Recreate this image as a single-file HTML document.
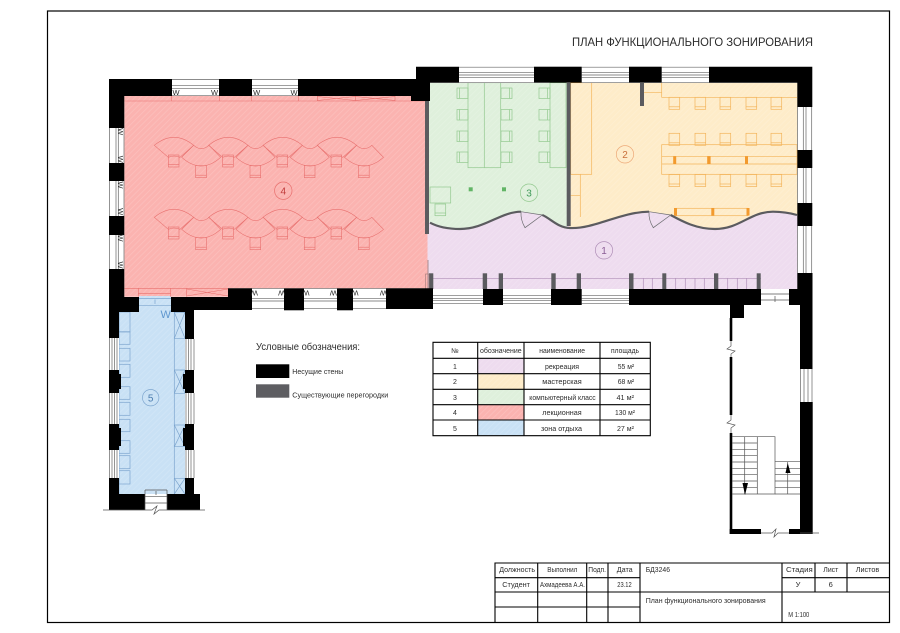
<!DOCTYPE html>
<html><head><meta charset="utf-8"><style>
html,body{margin:0;padding:0;background:#fff;width:900px;height:633px;overflow:hidden}
svg{display:block}
text{font-family:"Liberation Sans","DejaVu Sans",sans-serif;fill:#2c2c2c}
</style></head><body>
<svg width="900" height="633" viewBox="0 0 900 633" xmlns="http://www.w3.org/2000/svg">
<defs>
<pattern id="h" width="4" height="4" patternUnits="userSpaceOnUse" patternTransform="rotate(45)"><line x1="0" y1="0" x2="0" y2="4" stroke="#fff" stroke-opacity=".16" stroke-width="1.5"/></pattern>
<g id="ch" fill="none"><rect x="0" y="0" width="10.7" height="12"/><line x1="0" y1="9.5" x2="10.7" y2="9.5"/></g>
<g id="chs" fill="none"><rect x="0" y="0" width="11" height="10.5"/><line x1="2.5" y1="0" x2="2.5" y2="10.5"/></g>
<g id="chr" fill="none"><rect x="0" y="0" width="11" height="10.5"/><line x1="8.5" y1="0" x2="8.5" y2="10.5"/></g>
<path id="fu" fill="none" d="M0,8 Q19.7,-8 39.4,8 L25.7,20 Q19.7,17.5 14,20 Z"/>
<path id="fl" fill="none" d="M0,0 Q19.5,17.4 39,0 L27.3,-12 Q19.5,-5.2 12,-12 Z"/>
<g id="row">
<g transform="translate(154.3,137.3)"><use href="#fu"/></g>
<g transform="translate(208.6,137.3)"><use href="#fu"/></g>
<g transform="translate(263,137.3)"><use href="#fu"/></g>
<g transform="translate(317.2,137.3)"><use href="#fu"/></g>
<g transform="translate(181.7,157.3)"><use href="#fl"/></g>
<g transform="translate(236,157.3)"><use href="#fl"/></g>
<g transform="translate(290.3,157.3)"><use href="#fl"/></g>
<g transform="translate(344.5,157.3)"><use href="#fl"/></g>
<use href="#ch" x="168.3" y="155"/><use href="#ch" x="222.6" y="155"/><use href="#ch" x="277" y="155"/><use href="#ch" x="331" y="155"/>
<use href="#ch" x="195.7" y="165.7"/><use href="#ch" x="250" y="165.7"/><use href="#ch" x="304.3" y="165.7"/><use href="#ch" x="358.5" y="165.7"/>
</g>
<g id="oc">
<use href="#ch" x="669" y="0"/><use href="#ch" x="695" y="0"/><use href="#ch" x="720" y="0"/><use href="#ch" x="746" y="0"/><use href="#ch" x="771" y="0"/>
</g>
</defs>

<rect width="900" height="633" fill="#fff"/>
<rect x="47.5" y="11" width="842" height="611.5" fill="none" stroke="#000" stroke-width="1.2"/>
<text x="572" y="46" font-size="12" textLength="241" lengthAdjust="spacingAndGlyphs">ПЛАН ФУНКЦИОНАЛЬНОГО ЗОНИРОВАНИЯ</text>

<!-- zones -->
<g>
<path d="M427,200 H797.5 V289 H427 Z" fill="#eedcef"/>
<path d="M429,83 H567 V228 C558,228 550,218 542.3,215 L521,211.7 C500,212 485,229 460,229 C450,229 440,228 429,222 Z" fill="#dff0dc"/>
<path d="M569,83 H797.5 V215 C790,213 782,211.7 773,211.7 C750,211.7 740,229 715,229 C695,229 680,220 670.7,215 L649,211.7 C620,212 595,229 570,228 L569,228 Z" fill="#feecc9"/>
<path d="M124.3,95.7 H425 V234 H427.5 V288.3 H228 V296.7 H124.3 Z" fill="#fbb3b0"/>
<path d="M139,296 H171 V312 H185 V494 H119 V312 H139 Z" fill="#c9e1f5"/>
<path d="M427,83 H797.5 V289 H427 Z M124.3,95.7 H425 V234 H427.5 V288.3 H228 V296.7 H124.3 Z M139,296 H171 V312 H185 V494 H119 V312 H139 Z" fill="url(#h)"/>
</g>

<!-- Room 4 furniture -->
<g stroke="#e8706e" stroke-width=".6" fill="none">
<path d="M124.3,101 H425 M171.7,96 V101 M219.3,96 V101 M251.7,96 V101 M298.3,96 V101 M317.3,96 V101 M355.3,96 V101 M395,96 V101 M317.3,96.5 L355.3,100.5 M317.3,100.5 L355.3,96.5 M355.3,96.5 L395,100.5 M355.3,100.5 L395,96.5"/>
<path d="M124.3,288.3 H228 M138.3,288.3 V296.7 M138.3,293.3 H170.7 M170.7,288.3 V296.7 M186.7,288.3 V296.7 M186.7,289 L228,296 M186.7,296 L228,289"/>
<use href="#row"/>
<use href="#row" y="72"/>
<circle cx="283.3" cy="190.7" r="8.7" stroke-width=".7"/>
</g>

<!-- Room 3 furniture -->
<g stroke="#93c98f" stroke-width=".7" fill="none">
<rect x="468" y="82.7" width="32.7" height="85"/><line x1="484.3" y1="82.7" x2="484.3" y2="167.7"/>
<rect x="550" y="82.7" width="16" height="85"/>
<rect x="430" y="187" width="20.7" height="16"/>
<rect x="435" y="204" width="10.7" height="11.7"/><line x1="435" y1="213" x2="445.7" y2="213"/>
<use href="#chs" x="457" y="88"/><use href="#chs" x="457" y="109.5"/><use href="#chs" x="457" y="131"/><use href="#chs" x="457" y="152"/>
<use href="#chr" x="501" y="88"/><use href="#chr" x="501" y="109.5"/><use href="#chr" x="501" y="131"/><use href="#chr" x="501" y="152"/>
<use href="#chr" x="539" y="88"/><use href="#chr" x="539" y="109.5"/><use href="#chr" x="539" y="131"/><use href="#chr" x="539" y="152"/>
<circle cx="529" cy="192.7" r="8.7"/>
</g>
<rect x="468.7" y="187.3" width="4" height="4" fill="#62b566"/><rect x="502" y="187.3" width="4" height="4" fill="#62b566"/>

<!-- Room 2 furniture -->
<g stroke="#f3b45a" stroke-width=".7" fill="none">
<rect x="570.7" y="82.7" width="21" height="91.6"/>
<path d="M570.7,174.3 H580.3 V217 M570.7,195.7 H580.3"/>
<path d="M661.7,82.7 V97.3 H797 M644,92.7 H661.7"/>
<g transform="translate(0,97.3)"><use href="#oc"/></g>
<g transform="translate(0,133.3)"><use href="#oc"/></g>
<g transform="translate(0,174.5)"><use href="#oc"/></g>
<rect x="661.7" y="144.7" width="135.3" height="29.6"/>
<path d="M661.7,156.3 H797 M661.7,164 H797"/>
<rect x="675" y="208.3" width="73" height="7.4"/>
<circle cx="625" cy="154.3" r="8.7" stroke="#eda978"/>
</g>
<g fill="#f29a2e">
<rect x="673.2" y="156.3" width="3" height="7.7"/><rect x="707.2" y="156.3" width="3.4" height="7.7"/><rect x="745" y="156.3" width="3" height="7.7"/>
<rect x="674" y="208" width="3" height="7.5"/><rect x="711.3" y="208" width="3" height="7.5"/><rect x="746.5" y="208" width="3" height="7.5"/>
</g>

<!-- Room 1 details -->
<g stroke="#b08fb8" stroke-width=".7" fill="none">
<path d="M429,278.3 H761"/>
<path d="M643.3,278.3 V289 M652.3,278.3 V289 M675.7,278.3 V289 M685.3,278.3 V289 M695,278.3 V289 M704.3,278.3 V289 M727.7,278.3 V289 M737.3,278.3 V289 M746.7,278.3 V289"/>
<circle cx="604" cy="250.3" r="8.7"/>
</g>
<g fill="#5b5b5f">
<rect x="429" y="273.3" width="4.3" height="15.7"/><rect x="482.7" y="273.3" width="4.4" height="15.7"/><rect x="498.7" y="273.3" width="4.3" height="15.7"/><rect x="551.3" y="273.3" width="4.4" height="15.7"/><rect x="576.7" y="273.3" width="4.3" height="15.7"/><rect x="629" y="273.3" width="4.5" height="15.7"/><rect x="662.3" y="273.3" width="4" height="15.7"/><rect x="714" y="273.3" width="4.3" height="15.7"/><rect x="756.7" y="273.3" width="4" height="15.7"/>
<rect x="425" y="100" width="4" height="134"/>
<rect x="566.7" y="83" width="4" height="143"/>
<rect x="640" y="83" width="4" height="23"/>
</g>
<line x1="428" y1="260" x2="428" y2="289" stroke="#8a6a6a" stroke-width=".7"/>
<rect x="425.5" y="274" width="3.5" height="15" fill="none" stroke="#a07878" stroke-width=".6"/>

<!-- wave -->
<g fill="none" stroke="#5b5b5f" stroke-width="2.2">
<path d="M430,222.7 C440,228 450,229 460,229 C485,229 500,212 521,211.7"/>
<path d="M542.3,215 C550,218 558,228 570,228 C595,229 620,212 649,211.7"/>
<path d="M670.7,215 C680,220 695,229 715,229 C740,229 750,211.7 773,211.7 C782,211.7 790,213 797,215"/>
</g>
<g fill="none" stroke="#6c6c70" stroke-width=".7">
<path d="M521,211.7 L542.3,215 L525,227.7 Q520.5,220 521,211.7"/>
<path d="M649,211.7 L670.7,215 L653.3,227.7 Q648.5,220 649,211.7"/>
</g>

<!-- Room 5 details -->
<g stroke="#7ea6cf" stroke-width=".7" fill="none">
<path d="M139,298.5 H171 M139,305.7 H171 M155,299.5 V304 M119,312 V494"/>
<rect x="119" y="312" width="11" height="20"/>
<rect x="119" y="331.7" width="11" height="12.6"/><rect x="119" y="348.3" width="11" height="12.7"/><rect x="119" y="364.3" width="11" height="13"/>
<rect x="119" y="386.7" width="11" height="12.6"/><rect x="119" y="402.3" width="11" height="13"/><rect x="119" y="419.3" width="11" height="12.4"/>
<rect x="119" y="440.7" width="11" height="12.6"/><rect x="119" y="455.7" width="11" height="13"/><rect x="119" y="470.7" width="11" height="13.3"/>
<path d="M174.3,312 V494"/>
<path d="M174.3,312.3 H185 M174.3,338.3 H185 M174.3,312.3 L185,338.3 M185,312.3 L174.3,338.3"/>
<path d="M174.3,370 H185 M174.3,393.3 H185 M174.3,370 L185,393.3 M185,370 L174.3,393.3"/>
<path d="M174.3,425 H185 M174.3,446.7 H185 M174.3,425 L185,446.7 M185,425 L174.3,446.7"/>
<path d="M174.3,478.3 H185 M174.3,478.3 L185,494 M185,478.3 L174.3,494"/>
<circle cx="150.7" cy="397.7" r="8.2"/>
</g>

<!-- windows -->
<g fill="#fff">
<rect x="172" y="79" width="47" height="17"/><rect x="252" y="79" width="46" height="17"/>
<rect x="459" y="66.7" width="75" height="16"/><rect x="581.7" y="66.7" width="47.3" height="16"/><rect x="661.7" y="66.7" width="47.3" height="16"/>
<rect x="109" y="128" width="15.3" height="35"/><rect x="109" y="181" width="15.3" height="35"/><rect x="109" y="235" width="15.3" height="34"/>
<rect x="252" y="288.3" width="32" height="22"/><rect x="304" y="288.3" width="33" height="22"/><rect x="353" y="288.3" width="33" height="22"/>
<rect x="433" y="289" width="50" height="16"/><rect x="503" y="289" width="48" height="16"/><rect x="581.7" y="289" width="47.3" height="16"/>
<rect x="797.3" y="107" width="15" height="43"/><rect x="797.3" y="168" width="15" height="35"/><rect x="797.3" y="226" width="15" height="47"/>
<rect x="800" y="369" width="12.7" height="33"/>
<rect x="109" y="338" width="10" height="32"/><rect x="109" y="393" width="10" height="31"/><rect x="109" y="450" width="10" height="28"/>
<rect x="185" y="339" width="9.5" height="31"/><rect x="185" y="393" width="9.5" height="31"/><rect x="185" y="450" width="9.5" height="28"/>
</g>
<g stroke="#666" stroke-width=".7" fill="none">
<path d="M172,79.5 H219 M172,85.7 H219 M172,88.3 H219 M172,95.7 H219 M252,79.5 H298 M252,85.7 H298 M252,88.3 H298 M252,95.7 H298"/>
<path d="M459,67.2 H534 M459,72.7 H534 M459,75 H534 M459,77.3 H534 M459,82.7 H534 M581.7,67.2 H629 M581.7,72.7 H629 M581.7,75 H629 M581.7,77.3 H629 M581.7,82.7 H629 M661.7,67.2 H709 M661.7,72.7 H709 M661.7,75 H709 M661.7,77.3 H709 M661.7,82.7 H709"/>
<path d="M109.5,128 V163 M116,128 V163 M118.3,128 V163 M124,128 V163 M109.5,181 V216 M116,181 V216 M118.3,181 V216 M124,181 V216 M109.5,235 V269 M116,235 V269 M118.3,235 V269 M124,235 V269"/>
<path d="M252,288.7 H284 M252,298.3 H284 M252,301 H284 M252,308.7 H284 M304,288.7 H337 M304,298.3 H337 M304,301 H337 M304,308.7 H337 M353,288.7 H386 M353,298.3 H386 M353,301 H386 M353,308.7 H386"/>
<path d="M433,295.7 H483 M433,298.7 H483 M433,300.7 H483 M433,303.7 H483 M503,295.7 H551 M503,298.7 H551 M503,300.7 H551 M503,303.7 H551 M581.7,295.7 H629 M581.7,298.7 H629 M581.7,300.7 H629 M581.7,303.7 H629"/>
<path d="M797.5,107 V150 M803.3,107 V150 M806,107 V150 M811.7,107 V150 M797.5,168 V203 M803.3,168 V203 M806,168 V203 M811.7,168 V203 M797.5,226 V273 M803.3,226 V273 M806,226 V273 M811.7,226 V273"/>
<path d="M800.5,369 V402 M804,369 V402 M808,369 V402 M812,369 V402"/>
<path d="M109.5,338 V370 M112,338 V370 M114.5,338 V370 M117,338 V370 M109.5,393 V424 M112,393 V424 M114.5,393 V424 M117,393 V424 M109.5,450 V478 M112,450 V478 M114.5,450 V478 M117,450 V478"/>
<path d="M186,339 V370 M188.5,339 V370 M191,339 V370 M194,339 V370 M186,393 V424 M188.5,393 V424 M191,393 V424 M194,393 V424 M186,450 V478 M188.5,450 V478 M191,450 V478 M194,450 V478"/>
</g>

<!-- walls -->
<g fill="#000">
<path d="M109,79 H172 V96 H124.3 V128 H109 Z"/>
<rect x="219" y="79" width="33" height="17"/>
<path d="M298,79 H416 V66.7 H459 V82.7 H430 V101 H411 V96 H298 Z"/>
<rect x="534" y="66.7" width="47.7" height="16"/>
<rect x="629" y="66.7" width="32.7" height="16"/>
<path d="M709,66.7 H812.3 V107 H797.3 V82.7 H709 Z"/>
<rect x="797.3" y="150" width="15" height="18"/>
<rect x="797.3" y="203" width="15" height="23"/>
<rect x="109" y="163" width="15.3" height="18"/>
<rect x="109" y="216" width="15.3" height="19"/>
<path d="M109,269 H124.3 V297 H139 V312 H119 V338 H109 Z"/>
<path d="M171,297 H228 V288.3 H252 V310 H194 V339 H185 V312 H171 Z"/>
<rect x="284" y="288.3" width="20" height="22"/>
<rect x="337" y="288.3" width="16" height="22"/>
<path d="M386,288.3 H433 V309 H386 Z"/>
<rect x="483" y="289" width="20" height="16"/>
<rect x="551" y="289" width="30.7" height="16"/>
<rect x="629" y="289" width="132" height="16"/>
<path d="M789,273 H812.5 V369 H800 V305 H789 V289 H797.3 V273 Z"/>
<rect x="800" y="402" width="12.7" height="132"/>
<rect x="730" y="305" width="14" height="13"/>
<rect x="729.7" y="318" width="2.6" height="23"/>
<rect x="729.7" y="357" width="2.6" height="58"/>
<rect x="729.7" y="433" width="2.6" height="101"/>
<rect x="729.7" y="529" width="31.3" height="5"/>
<rect x="789" y="529" width="11" height="5"/>
<path d="M109,370 H119 V374 H121 V389 H119 V393 H109 Z"/>
<path d="M109,424 H119 V428 H121 V446 H119 V450 H109 Z"/>
<path d="M109,478 H119 V494 H145 V510 H109 Z"/>
<path d="M194,370 H185 V374 H183 V389 H185 V393 H194 Z"/>
<path d="M194,424 H185 V428 H183 V446 H185 V450 H194 Z"/>
<path d="M185,478 H194 V494 H200 V510 H167 V494 H185 Z"/>
</g>

<!-- W marks -->
<g font-size="7.5" text-anchor="middle">
<text x="176" y="95">W</text><text x="214.5" y="95">W</text><text x="256.7" y="95">W</text><text x="294" y="95">W</text>
<text transform="translate(118,131.7) rotate(90)" text-anchor="middle">W</text>
<text transform="translate(118,159.3) rotate(90)" text-anchor="middle">W</text>
<text transform="translate(118,185) rotate(90)" text-anchor="middle">W</text>
<text transform="translate(118,211.7) rotate(90)" text-anchor="middle">W</text>
<text transform="translate(118,238) rotate(90)" text-anchor="middle">W</text>
<text transform="translate(118,265) rotate(90)" text-anchor="middle">W</text>
<text transform="translate(254.3,290.5) rotate(180)" text-anchor="middle">W</text>
<text transform="translate(281.7,290.5) rotate(180)" text-anchor="middle">W</text>
<text transform="translate(306,290.5) rotate(180)" text-anchor="middle">W</text>
<text transform="translate(333.3,290.5) rotate(180)" text-anchor="middle">W</text>
<text transform="translate(355,290.5) rotate(180)" text-anchor="middle">W</text>
<text transform="translate(383.3,290.5) rotate(180)" text-anchor="middle">W</text>
</g>
<text x="165.7" y="318" font-size="11" text-anchor="middle" style="fill:#5f97cf">W</text>

<!-- room numbers -->
<g font-size="10" text-anchor="middle">
<text x="604" y="254" style="fill:#8a5c94">1</text>
<text x="625" y="158" style="fill:#c9703a">2</text>
<text x="529" y="196.5" style="fill:#3f9a58">3</text>
<text x="283.3" y="194.5" style="fill:#c03a3a">4</text>
<text x="150.7" y="401.5" style="fill:#4f7fb0">5</text>
</g>

<!-- bottom doors and break lines -->
<g stroke="#555" stroke-width=".7" fill="none">
<path d="M761,294 H789 M761,300 H789 M775,296 V302"/>
<path d="M145,490 H167 M145,496.3 H167 M145,503 H167 M156,491 V495 M145,490 V510 M167,490 V510"/>
<path d="M103,510 H152 L157,506 L154,514 L159,510 H205"/>
<path d="M761,533 H772 L776,529 L774,537 L778,533 H789 M800,533 H819"/>
<path d="M731,341 V346 L727,349 L735,351 L731,354 V357 M731,415 V420 L727,423 L735,425 L731,428 V433"/>
<!-- stairs -->
<path d="M732,436.7 H775 V494 H732 M757.3,436.7 V494 M744.7,436.7 V494"/>
<path d="M732,443 H757.3 M732,449.3 H757.3 M732,455.7 H757.3 M732,462 H757.3 M732,468.3 H757.3 M732,474.7 H757.3 M732,481 H757.3 M732,487.3 H757.3"/>
<path d="M775,461.7 H800 M775,468.3 H800 M775,474.7 H800 M775,481 H800 M775,487.3 H800 M775,494 H800 M787.7,461.7 V494"/>
</g>
<path d="M742.5,483 H748 L745,495 Z" fill="#000"/>
<path d="M785.5,473 H790.5 L787.7,463 Z" fill="#000"/>

<!-- legend -->
<text x="256" y="350" font-size="10.5" textLength="104" lengthAdjust="spacingAndGlyphs">Условные обозначения:</text>
<rect x="256" y="364.3" width="33.3" height="13.7" fill="#000"/>
<rect x="256" y="384.3" width="33.3" height="13.4" fill="#5e5e62"/>
<text x="292.3" y="374" font-size="7.5" textLength="51" lengthAdjust="spacingAndGlyphs">Несущие стены</text>
<text x="292.3" y="397.5" font-size="7.5" textLength="96" lengthAdjust="spacingAndGlyphs">Существующие перегородки</text>

<!-- table -->
<g>
<rect x="477.7" y="358.3" width="46.3" height="15.4" fill="#eedcef"/>
<rect x="477.7" y="373.7" width="46.3" height="15.6" fill="#feecc9"/>
<rect x="477.7" y="389.3" width="46.3" height="15.4" fill="#dff0dc"/>
<rect x="477.7" y="404.7" width="46.3" height="15.3" fill="#fbb3b0"/>
<rect x="477.7" y="420" width="46.3" height="15.7" fill="#c9e1f5"/>
<rect x="477.7" y="358.3" width="46.3" height="77.4" fill="url(#h)"/>
<path d="M433,342.3 H650.3 V435.7 H433 Z M433,358.3 H650.3 M433,373.7 H650.3 M433,389.3 H650.3 M433,404.7 H650.3 M433,420 H650.3 M477.7,342.3 V435.7 M524,342.3 V435.7 M600,342.3 V435.7" fill="none" stroke="#000" stroke-width="1.1"/>
</g>
<g font-size="7">
<text x="455" y="353" text-anchor="middle">№</text>
<text x="480" y="353" textLength="41.7" lengthAdjust="spacingAndGlyphs">обозначение</text>
<text x="539.3" y="353" textLength="45.7" lengthAdjust="spacingAndGlyphs">наименование</text>
<text x="611" y="353" textLength="28" lengthAdjust="spacingAndGlyphs">площадь</text>
<text x="455" y="369" text-anchor="middle">1</text><text x="455" y="384" text-anchor="middle">2</text><text x="455" y="400" text-anchor="middle">3</text><text x="455" y="415" text-anchor="middle">4</text><text x="455" y="431" text-anchor="middle">5</text>
<text x="545" y="369" textLength="34" lengthAdjust="spacingAndGlyphs">рекреация</text>
<text x="542.3" y="384" textLength="39.4" lengthAdjust="spacingAndGlyphs">мастерская</text>
<text x="529.3" y="400" textLength="66.4" lengthAdjust="spacingAndGlyphs">компьютерный класс</text>
<text x="542.3" y="415" textLength="39.4" lengthAdjust="spacingAndGlyphs">лекционная</text>
<text x="541" y="431" textLength="41" lengthAdjust="spacingAndGlyphs">зона отдыха</text>
<text x="617.7" y="369" textLength="16.5" lengthAdjust="spacingAndGlyphs">55 м²</text>
<text x="617.7" y="384" textLength="16.5" lengthAdjust="spacingAndGlyphs">68 м²</text>
<text x="616.5" y="400" textLength="17.5" lengthAdjust="spacingAndGlyphs">41 м²</text>
<text x="615" y="415" textLength="20" lengthAdjust="spacingAndGlyphs">130 м²</text>
<text x="617" y="431" textLength="17" lengthAdjust="spacingAndGlyphs">27 м²</text>
</g>

<!-- title block -->
<path d="M495,622.5 V563 H889.5 M495,577.7 H640 M782,577.7 H889.5 M495,592 H640 M640,592 H889.5 M495,607 H640 M537.7,563 V622.5 M586.7,563 V622.5 M608,563 V622.5 M640,563 V622.5 M782,563 V622.5 M815,563 V592 M847,563 V592" fill="none" stroke="#000" stroke-width="1.1"/>
<g font-size="7.5">
<text x="499.3" y="572" textLength="35.7" lengthAdjust="spacingAndGlyphs">Должность</text>
<text x="547.3" y="572" textLength="30" lengthAdjust="spacingAndGlyphs">Выполнил</text>
<text x="588.3" y="572" textLength="17.7" lengthAdjust="spacingAndGlyphs">Подп.</text>
<text x="616.7" y="572" textLength="16" lengthAdjust="spacingAndGlyphs">Дата</text>
<text x="645.7" y="572" textLength="24.3" lengthAdjust="spacingAndGlyphs">БД3246</text>
<text x="786" y="572" textLength="26.7" lengthAdjust="spacingAndGlyphs">Стадия</text>
<text x="823.3" y="572" textLength="15" lengthAdjust="spacingAndGlyphs">Лист</text>
<text x="855.7" y="572" textLength="23.6" lengthAdjust="spacingAndGlyphs">Листов</text>
<text x="502.3" y="587" textLength="27.7" lengthAdjust="spacingAndGlyphs">Студент</text>
<text x="540" y="587" textLength="45" lengthAdjust="spacingAndGlyphs">Ахмадеева А.А.</text>
<text x="617.3" y="587" textLength="14.4" lengthAdjust="spacingAndGlyphs">23.12</text>
<text x="798" y="587" text-anchor="middle">У</text>
<text x="830.7" y="587" text-anchor="middle">6</text>
<text x="645.7" y="603" textLength="120" lengthAdjust="spacingAndGlyphs">План функционального зонирования</text>
<text x="788.3" y="617" textLength="21" lengthAdjust="spacingAndGlyphs">М 1:100</text>
</g>
</svg>
</body></html>
